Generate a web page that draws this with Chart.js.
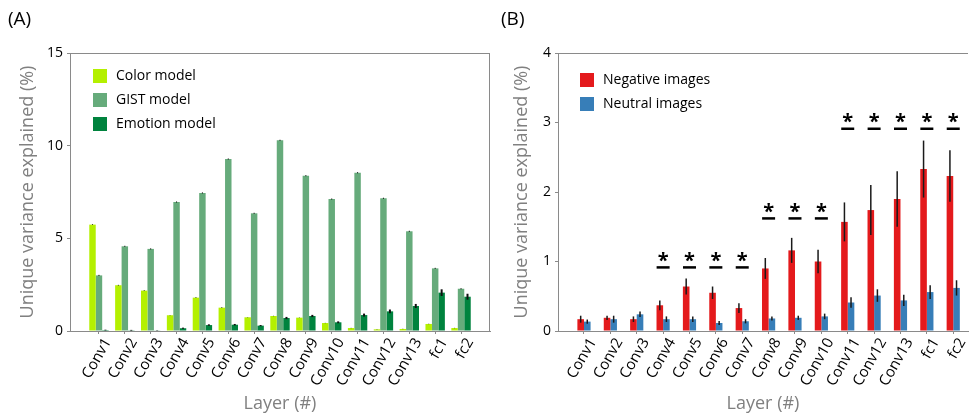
<!DOCTYPE html>
<html>
<head>
<meta charset="utf-8">
<script src="https://cdn.jsdelivr.net/npm/chart.js@4.4.1/dist/chart.umd.min.js"></script>
<style>
  body { margin: 0; background: #fff; }
  #wrap { position: relative; width: 969px; height: 415px; overflow: hidden; font-family: "Open Sans", sans-serif; }
  .tag { position: absolute; top: 5px; font-size: 19px; color: #000; }
  canvas { position: absolute; top: 0; }
  #canvasA { left: 0; }
  #canvasB { left: 495px; }
</style>
</head>
<body>
<div id="wrap">
  <canvas id="canvasA" width="495" height="415"></canvas>
  <canvas id="canvasB" width="474" height="415"></canvas>
  <div class="tag" style="left:8px">(A)</div>
  <div class="tag" style="left:501px">(B)</div>
</div>
<script>
const layers = ['Conv1', 'Conv2', 'Conv3', 'Conv4', 'Conv5', 'Conv6', 'Conv7', 'Conv8', 'Conv9', 'Conv10', 'Conv11', 'Conv12', 'Conv13', 'fc1', 'fc2'];

// panel A
const colorModel = [5.74, 2.47, 2.18, 0.85, 1.80, 1.26, 0.74, 0.81, 0.72, 0.43, 0.16, 0.09, 0.11, 0.38, 0.16];
const colorErr = [0.02, 0.02, 0.02, 0.01, 0.02, 0.02, 0.01, 0.01, 0.01, 0.01, 0.01, 0.01, 0.01, 0.01, 0.01];
const gistModel = [3.00, 4.57, 4.43, 6.96, 7.45, 9.28, 6.35, 10.29, 8.38, 7.12, 8.54, 7.16, 5.38, 3.38, 2.28];
const gistErr = [0.03, 0.03, 0.03, 0.03, 0.03, 0.03, 0.03, 0.03, 0.03, 0.03, 0.03, 0.03, 0.03, 0.03, 0.03];
const emotionModel = [0.05, 0.04, 0.02, 0.15, 0.32, 0.34, 0.29, 0.70, 0.81, 0.47, 0.86, 1.06, 1.35, 2.07, 1.85];
const emotionErr = [0.02, 0.02, 0.01, 0.03, 0.04, 0.04, 0.03, 0.06, 0.06, 0.05, 0.08, 0.10, 0.11, 0.18, 0.16];
const ticksA = [0, 5, 10, 15];

// panel B
const negative = [0.17, 0.19, 0.17, 0.37, 0.64, 0.55, 0.33, 0.90, 1.16, 1.00, 1.57, 1.74, 1.90, 2.33, 2.23];
const negativeErr = [0.05, 0.03, 0.04, 0.07, 0.115, 0.09, 0.07, 0.15, 0.18, 0.17, 0.28, 0.36, 0.40, 0.41, 0.37];
const neutral = [0.135, 0.17, 0.24, 0.17, 0.17, 0.115, 0.14, 0.18, 0.19, 0.21, 0.41, 0.51, 0.44, 0.56, 0.62];
const neutralErr = [0.03, 0.05, 0.04, 0.04, 0.04, 0.03, 0.03, 0.03, 0.03, 0.04, 0.077, 0.09, 0.08, 0.10, 0.11];
const ticksB = [0, 1, 2, 3, 4];

// significance markers (layer, height of the underline)
const sigLayers = ['Conv4', 'Conv5', 'Conv6', 'Conv7', 'Conv8', 'Conv9', 'Conv10', 'Conv11', 'Conv12', 'Conv13', 'fc1', 'fc2'];
const sigLevel = [0.915, 0.915, 0.915, 0.915, 1.62, 1.62, 1.62, 2.91, 2.91, 2.91, 2.91, 2.91];

const FONT = '"Open Sans", sans-serif';
const AXIS = '#8a8a8a';

const points = arr => arr.map((v, i) => ({ x: i, y: v }));

const errorBars = {
    id: 'errorBars',
    afterDatasetsDraw(chart) {
        const ctx = chart.ctx;
        const y = chart.scales.y;
        chart.data.datasets.forEach((ds, di) => {
            if (!ds.errors) return;
            const meta = chart.getDatasetMeta(di);
            ctx.save();
            ctx.strokeStyle = ds.errColor || '#111';
            ctx.lineWidth = ds.errWidth || 1.5;
            meta.data.forEach((bar, i) => {
                const v = ds.data[i].y, e = ds.errors[i];
                ctx.beginPath();
                ctx.moveTo(bar.x, y.getPixelForValue(v - e));
                ctx.lineTo(bar.x, y.getPixelForValue(v + e));
                ctx.stroke();
            });
            ctx.restore();
        });
    }
};

const frame = {
    id: 'frame',
    afterDraw(chart, args, opts) {
        const { ctx, chartArea: a } = chart;
        ctx.save();
        ctx.strokeStyle = AXIS;
        ctx.lineWidth = 1;
        ctx.beginPath();
        ctx.moveTo(a.left, a.top + 0.5);
        ctx.lineTo(a.right, a.top + 0.5);
        if (opts.right) {
            ctx.moveTo(a.right - 0.5, a.top);
            ctx.lineTo(a.right - 0.5, a.bottom);
        }
        ctx.stroke();
        ctx.restore();
    }
};

const boxLegend = {
    id: 'boxLegend',
    afterDraw(chart, args, opts) {
        const { ctx, chartArea: a } = chart;
        ctx.save();
        ctx.font = '14px ' + FONT;
        ctx.textBaseline = 'middle';
        chart.data.datasets.forEach((ds, i) => {
            const cy = a.top + opts.y + i * opts.gap;
            ctx.fillStyle = ds.backgroundColor;
            ctx.fillRect(a.left + opts.x, cy - 7, 14, 14);
            ctx.fillStyle = '#000';
            ctx.fillText(ds.label, a.left + opts.x + 23, cy);
        });
        ctx.restore();
    }
};

const stars = {
    id: 'stars',
    afterDraw(chart, args, opts) {
        if (!opts.show) return;
        const { ctx, scales } = chart;
        ctx.save();
        ctx.fillStyle = '#000';
        ctx.strokeStyle = '#000';
        ctx.lineWidth = 2.5;
        ctx.font = 'bold 20px ' + FONT;
        ctx.textAlign = 'center';
        ctx.textBaseline = 'middle';
        sigLayers.forEach((name, k) => {
            const px = scales.x.getPixelForValue(layers.indexOf(name));
            const py = scales.y.getPixelForValue(sigLevel[k]);
            ctx.beginPath();
            ctx.moveTo(px - 6.5, py);
            ctx.lineTo(px + 6.5, py);
            ctx.stroke();
            ctx.fillText('*', px, py - 6);
        });
        ctx.restore();
    }
};

function makeChart(id, datasets, opt) {
    return new Chart(document.getElementById(id), {
        type: 'bar',
        data: { datasets },
        options: {
            responsive: false,
            animation: false,
            layout: { padding: { top: 53, right: opt.padRight, left: 0, bottom: 0 } },
            datasets: { bar: { categoryPercentage: opt.catPct, barPercentage: 1, borderWidth: 0 } },
            plugins: {
                legend: { display: false },
                tooltip: { enabled: false },
                frame: { right: opt.frameRight },
                boxLegend: opt.legend,
                stars: { show: opt.stars }
            },
            scales: {
                x: {
                    type: 'linear',
                    offset: false,
                    min: opt.xMin,
                    max: opt.xMax,
                    afterBuildTicks: s => { s.ticks = layers.map((_, i) => ({ value: i })); },
                    afterFit: s => { s.height = 84; s.paddingLeft = 0; s.paddingRight = 0; },
                    grid: { offset: false, drawOnChartArea: false, drawTicks: true, tickLength: 3, color: AXIS },
                    border: { color: AXIS, width: 1 },
                    ticks: {
                        autoSkip: false,
                        minRotation: 60,
                        maxRotation: 60,
                        padding: 1,
                        labelOffset: 9,
                        color: '#000',
                        font: { family: FONT, size: 15 },
                        callback: v => layers[v]
                    },
                    title: {
                        display: true,
                        text: 'Layer (#)',
                        color: '#808080',
                        padding: 0,
                        font: { family: FONT, size: 18 }
                    }
                },
                y: {
                    min: 0,
                    max: opt.yMax,
                    afterBuildTicks: s => { s.ticks = opt.yTicks.map(v => ({ value: v })); },
                    afterFit: s => { s.width = opt.yWidth; },
                    grid: { drawOnChartArea: false, drawTicks: true, tickLength: 3, color: AXIS },
                    border: { color: AXIS, width: 1 },
                    ticks: { color: '#000', padding: 4, font: { family: FONT, size: 14 } },
                    title: {
                        display: true,
                        text: 'Unique variance explained (%)',
                        color: '#808080',
                        padding: { top: opt.titlePad, bottom: 0 },
                        font: { family: FONT, size: 18 }
                    }
                }
            }
        },
        plugins: [errorBars, frame, boxLegend, stars]
    });
}

makeChart('canvasA', [
    { label: 'Color model', data: points(colorModel), errors: colorErr, errWidth: 1, backgroundColor: '#b4f000' },
    { label: 'GIST model', data: points(gistModel), errors: gistErr, errWidth: 1, backgroundColor: '#66ab7b' },
    { label: 'Emotion model', data: points(emotionModel), errors: emotionErr, errWidth: 2, backgroundColor: '#00833e' }
], {
    padRight: 5, catPct: 0.75, xMin: -1.12, xMax: 15.12, yMax: 15, yTicks: ticksA,
    yWidth: 70, titlePad: 17, frameRight: true, stars: false,
    legend: { x: 23, y: 23, gap: 24 }
});

makeChart('canvasB', [
    { label: 'Negative images', data: points(negative), errors: negativeErr, errWidth: 1.5, errColor: '#1a1a1a', backgroundColor: '#e41a1c' },
    { label: 'Neutral images', data: points(neutral), errors: neutralErr, errWidth: 1.5, errColor: '#1a1a1a', backgroundColor: '#377eb8' }
], {
    padRight: 1, catPct: 0.5, xMin: -0.985, xMax: 14.56, yMax: 4, yTicks: ticksB,
    yWidth: 63, titlePad: 16, frameRight: false, stars: true,
    legend: { x: 22, y: 27, gap: 24 }
});
</script>
</body>
</html>
